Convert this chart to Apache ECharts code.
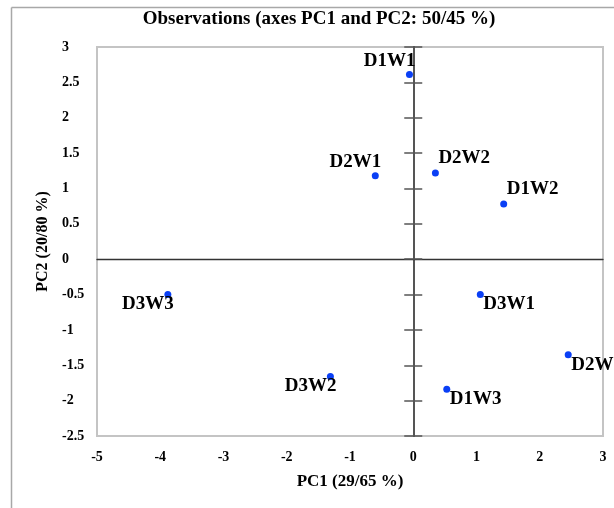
<!DOCTYPE html>
<html><head><meta charset="utf-8">
<script src="https://cdn.jsdelivr.net/npm/echarts@6/dist/echarts.min.js"></script>
<style>html,body{margin:0;padding:0;background:#fff}#c{width:614px;height:508px}</style>
</head><body><div id="c"></div>
<script>
// ---- data ----
const names = ['D1W1', 'D1W2', 'D1W3', 'D2W1', 'D2W2', 'D2W3', 'D3W1', 'D3W2', 'D3W3'];
const pc1 = [-0.06, 1.43, 0.53, -0.60, 0.35, 2.45, 1.06, -1.31, -3.88];
const pc2 = [2.61, 0.78, -1.84, 1.18, 1.22, -1.35, -0.50, -1.66, -0.50];
const xRange = [-5, 3];
const yRange = [-2.5, 3];
const titleText = 'Observations (axes PC1 and PC2: 50/45 %)';
const xName = 'PC1 (29/65 %)';
const yName = 'PC2 (20/80 %)';

// ---- styling ----
const FONT = '"Liberation Serif", "Times New Roman", serif';
const labelSide = {D1W1:'tl', D2W1:'tl', D3W3:'bl', D3W2:'bl', D2W2:'tr', D1W2:'tr', D3W1:'br', D2W3:'br', D1W3:'br'};
const sideStyle = {
  tl: {align:'right', offset:[6, -13.5]},
  bl: {align:'right', offset:[6, 9.5]},
  tr: {align:'left', offset:[3, -14.5]},
  br: {align:'left', offset:[3, 10]}
};

const chart = echarts.init(document.getElementById('c'), null, {renderer:'canvas'});
const xb = {type:'value', min:xRange[0], max:xRange[1], interval:1, splitLine:{show:false}};
const yb = {type:'value', min:yRange[0], max:yRange[1], interval:0.5, splitLine:{show:false}};
const tickFont = {color:'#000', fontFamily:FONT, fontWeight:'bold', fontSize:14};
const nameFont = {color:'#000', fontFamily:FONT, fontWeight:'bold', fontSize:17};

const option = {
  animation:false,
  backgroundColor:'#fff',
  grid:{left:97, right:11, top:47, bottom:72, show:true, borderColor:'#c4c4c4', borderWidth:2, containLabel:false, outerBoundsMode:'none'},
  graphic:[
    {type:'line', shape:{x1:11.5, y1:7.5, x2:614, y2:7.5}, style:{stroke:'#a8a8a8', lineWidth:1.5}},
    {type:'line', shape:{x1:11.5, y1:7.5, x2:11.5, y2:508}, style:{stroke:'#a8a8a8', lineWidth:1.5}},
    {type:'text', x:319, y:19, style:{text:titleText, align:'center', verticalAlign:'middle', fill:'#000',
      font:'bold 19px ' + FONT}}
  ],
  xAxis:[
    Object.assign({}, xb, {
      position:'bottom',
      axisLine:{show:false, onZero:false}, axisTick:{show:false},
      axisLabel:Object.assign({margin:14}, tickFont),
      name:xName, nameLocation:'middle', nameGap:37, nameTextStyle:nameFont
    }),
    Object.assign({}, xb, {
      position:'bottom',
      axisLine:{show:true, onZero:true, onZeroAxisIndex:0, lineStyle:{color:'#333', width:1.3}},
      axisTick:{show:false}, axisLabel:{show:false}
    })
  ],
  yAxis:[
    Object.assign({}, yb, {
      position:'left',
      axisLine:{show:false, onZero:false}, axisTick:{show:false},
      axisLabel:Object.assign({margin:35, align:'left'}, tickFont),
      name:yName, nameLocation:'middle', nameGap:46, nameRotate:90, nameTextStyle:Object.assign({}, nameFont, {fontSize:16})
    }),
    Object.assign({}, yb, {
      position:'left',
      axisLine:{show:true, onZero:true, onZeroAxisIndex:0, lineStyle:{color:'#555', width:2}},
      axisTick:{show:true, inside:false, length:9, lineStyle:{color:'#555', width:1.5}},
      axisLabel:{show:false}
    }),
    Object.assign({}, yb, {
      position:'left',
      axisLine:{show:true, onZero:true, onZeroAxisIndex:0, lineStyle:{color:'#555', width:2}},
      axisTick:{show:true, inside:true, length:9, lineStyle:{color:'#555', width:1.5}},
      axisLabel:{show:false}
    })
  ],
  series:[{
    type:'scatter', xAxisIndex:0, yAxisIndex:0, symbol:'circle', symbolSize:7,
    itemStyle:{color:'#0a3ff5', opacity:1},
    label:{show:true, formatter:'{b}', position:'inside', verticalAlign:'middle',
      color:'#000', fontFamily:FONT, fontWeight:'bold', fontSize:19},
    data:names.map((n, i) => ({
      name:n, value:[pc1[i], pc2[i]],
      label:sideStyle[labelSide[n]]
    }))
  }]
};
chart.setOption(option);
</script></body></html>
